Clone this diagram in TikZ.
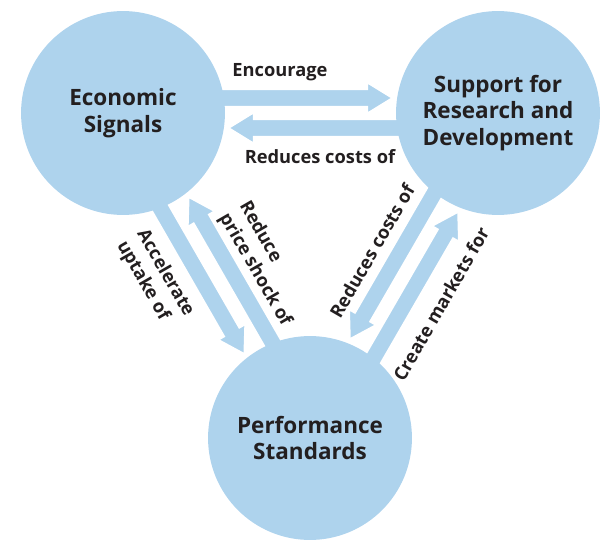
\documentclass[tikz,border=0pt]{standalone}
\usepackage{fontspec}
\setmainfont{Open Sans}
\usepackage{tikz}
\usetikzlibrary{calc, backgrounds}
\definecolor{bubbleblue}{RGB}{174,211,237}
\definecolor{inkgrey}{RGB}{35,31,32}
\tikzstyle{bubble} = [circle, fill=bubbleblue, minimum size=145pt, inner sep=0pt, align=center, text=inkgrey, font=\bfseries\fontsize{16}{19}\selectfont]
\tikzstyle{flowfill} = [fill=bubbleblue, draw=white, line width=1.6pt, line join=miter]
\tikzstyle{flowlabel} = [inner sep=0pt, align=left, text=inkgrey, font=\bfseries\fontsize{13}{16.5}\selectfont]

% block arrow from #1 to #2, shifted sideways by #3
\newcommand{\flowarrow}[3]{%
  \path let \p1 = ($(#2)-(#1)$) in
    \pgfextra{\pgfmathparse{atan2(\y1,\x1)}\xdef\flowangle{\pgfmathresult}%
              \pgfmathparse{veclen(\x1,\y1)/0.711319}\xdef\flowlen{\pgfmathresult}};
  \begin{scope}[on background layer, shift={(#1)}, rotate=\flowangle]
    \filldraw[flowfill] (60,#3-9) -- ({\flowlen-131},#3-9) -- ({\flowlen-131},#3-16)
      -- ({\flowlen-105},#3) -- ({\flowlen-131},#3+16) -- ({\flowlen-131},#3+9)
      -- (60,#3+9) -- cycle;
  \end{scope}}

\begin{document}
\begin{tikzpicture}[x=0.025cm, y=-0.025cm]
  \useasboundingbox (0,0) rectangle (606,548);

  % Draw the three circles
  \node[bubble] (econ) at (123,113) {Economic\\Signals};
  \node[bubble] (rnd)  at (498,113) {Support for\\Research and\\Development};
  \node[bubble] (perf) at (310,438) {Performance\\Standards};

  % Draw the arrows between them
  \flowarrow{econ}{rnd}{-15}
  \flowarrow{rnd}{econ}{-15}
  \flowarrow{econ}{perf}{15}
  \flowarrow{perf}{econ}{15}
  \flowarrow{rnd}{perf}{15}
  \flowarrow{perf}{rnd}{15}

  % Draw the arrow labels
  \node[flowlabel] (encourage) at (280,72) {Encourage};
  \node[flowlabel] (reduceA) at (320,157) {Reduces costs of};
  \node[flowlabel, rotate=-60] (accel) at (155,279) {Accelerate\\uptake of};
  \node[flowlabel, rotate=-60] (shock) at (265,264) {Reduce\\price shock of};
  \node[flowlabel, rotate=60] (reduceB) at (372,251) {Reduces costs of};
  \node[flowlabel, rotate=60] (markets) at (441,304) {Create markets for};
\end{tikzpicture}
\end{document}
